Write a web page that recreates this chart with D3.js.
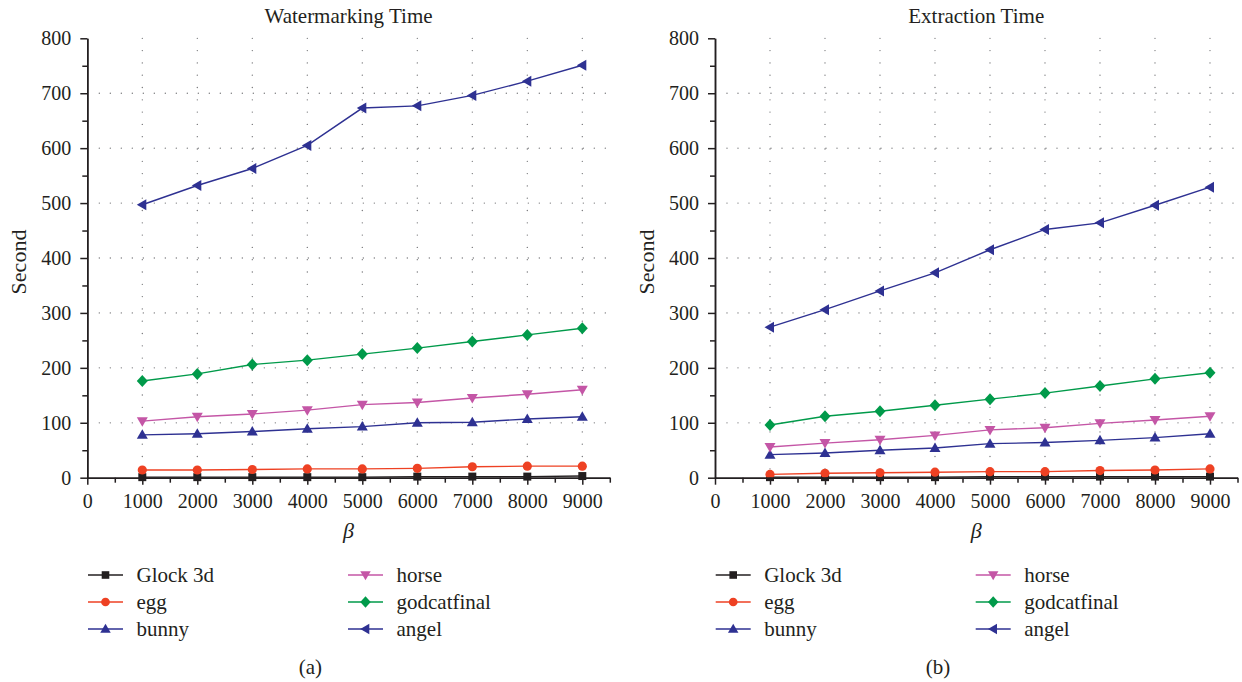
<!DOCTYPE html>
<html>
<head>
<meta charset="utf-8">
<script src="https://cdn.jsdelivr.net/npm/d3@7"></script>
<style>
  html, body { margin: 0; padding: 0; background: #fff; }
  svg text { font-family: "Liberation Serif", "Times New Roman", serif; fill: #231f20; }
</style>
</head>
<body>
<svg id="chart" width="1242" height="682"></svg>
<script>
// x values (beta)
const betaValues = [1000, 2000, 3000, 4000, 5000, 6000, 7000, 8000, 9000];
const xTickLabels = [0, 1000, 2000, 3000, 4000, 5000, 6000, 7000, 8000, 9000];
const yTickLabels = [0, 100, 200, 300, 400, 500, 600, 700, 800];

const seriesNames = ['Glock 3d', 'egg', 'bunny', 'horse', 'godcatfinal', 'angel'];

// Watermarking time (seconds)
const wmGlock = [1, 1, 1, 1, 1, 2, 2, 2, 3];
const wmEgg = [14, 14, 15, 16, 16, 17, 20, 21, 21];
const wmBunny = [78, 80, 84, 89, 93, 100, 101, 107, 111];
const wmHorse = [103, 111, 116, 123, 133, 137, 145, 152, 160];
const wmGodcat = [176, 189, 206, 214, 225, 236, 248, 260, 272];
const wmAngel = [497, 532, 563, 605, 673, 677, 696, 722, 751];

// Extraction time (seconds)
const exGlock = [1, 1, 1, 1, 2, 2, 2, 2, 2];
const exEgg = [6, 8, 9, 10, 11, 11, 13, 14, 16];
const exBunny = [42, 45, 50, 54, 62, 64, 68, 73, 80];
const exHorse = [56, 63, 69, 77, 87, 91, 99, 105, 112];
const exGodcat = [96, 112, 121, 132, 143, 154, 167, 180, 191];
const exAngel = [274, 306, 340, 373, 415, 452, 464, 496, 529];

const seriesStyle = {
  'Glock 3d':    { color: '#231f20', shape: 'square' },
  'egg':         { color: '#ee4123', shape: 'circle' },
  'bunny':       { color: '#2e3192', shape: 'triUp' },
  'horse':       { color: '#c456a6', shape: 'triDown' },
  'godcatfinal': { color: '#009a4a', shape: 'diamond' },
  'angel':       { color: '#2e3192', shape: 'triLeft' }
};

const serif = '"Liberation Serif", "Times New Roman", serif';

// marker path by shape name, scaled by s
function markerPath(shape, s = 1) {
  switch (shape) {
    case 'square': return `M${-4*s},${-4*s}h${8*s}v${8*s}h${-8*s}Z`;
    case 'circle': return d3.symbol(d3.symbolCircle, 66 * s * s)();
    case 'triUp': return `M0,${-5.5*s}L${5.5*s},${4*s}L${-5.5*s},${4*s}Z`;
    case 'triDown': return `M0,${5.5*s}L${5.5*s},${-4*s}L${-5.5*s},${-4*s}Z`;
    case 'triLeft': return `M${-5.5*s},0L${4*s},${-5.5*s}L${4*s},${5.5*s}Z`;
    case 'diamond': return `M0,${-6*s}L${5.5*s},0L0,${6*s}L${-5.5*s},0Z`;
  }
}

const panels = [
  { title: 'Watermarking Time', tag: '(a)', left: 87.3,
    values: [wmGlock, wmEgg, wmBunny, wmHorse, wmGodcat, wmAngel] },
  { title: 'Extraction Time', tag: '(b)', left: 715,
    values: [exGlock, exEgg, exBunny, exHorse, exGodcat, exAngel] }
];

const svg = d3.select('#chart');
const plotTop = 38.3, plotBottom = 477.7, plotW = 522.5;

panels.forEach(p => {
  const x = d3.scaleLinear().domain([0, 9500]).range([p.left, p.left + plotW]);
  const y = d3.scaleLinear().domain([0, 800]).range([plotBottom, plotTop]);
  const g = svg.append('g');
  const cx = (p.left + p.left + plotW) / 2;

  // dotted grid
  const grid = g.append('g').attr('stroke', '#6d6e71').attr('stroke-width', 1.3)
    .attr('stroke-linecap', 'round');
  grid.selectAll('.hgrid').data(yTickLabels.filter(v => v > 0 && v < 800)).join('line')
    .attr('x1', x(0) + 12).attr('x2', x(9500))
    .attr('y1', d => y(d)).attr('y2', d => y(d))
    .attr('stroke-dasharray', '0,11');
  grid.selectAll('.vgrid').data(betaValues).join('line')
    .attr('x1', d => x(d)).attr('x2', d => x(d))
    .attr('y1', y(800)).attr('y2', y(0) - 6)
    .attr('stroke-dasharray', '0,12.3');

  // series
  p.values.forEach((vals, i) => {
    const st = seriesStyle[seriesNames[i]];
    const pts = betaValues.map((b, j) => [b, vals[j]]);
    g.append('path').datum(pts)
      .attr('fill', 'none').attr('stroke', st.color).attr('stroke-width', 1.4)
      .attr('d', d3.line().x(d => x(d[0])).y(d => y(d[1])));
    g.selectAll(null).data(pts).join('path')
      .attr('transform', d => `translate(${x(d[0])},${y(d[1])})`)
      .attr('d', markerPath(st.shape))
      .attr('fill', st.color);
  });

  // axes
  const fmt = d3.format('d');
  const axes = g.append('g');
  axes.append('g').attr('transform', `translate(0,${plotBottom})`)
    .call(d3.axisBottom(x).tickValues(xTickLabels).tickFormat(fmt).tickSize(7).tickSizeOuter(0).tickPadding(9));
  axes.append('g').attr('transform', `translate(0,${plotBottom})`)
    .call(d3.axisBottom(x).tickValues(d3.range(500, 10000, 1000)).tickSize(5).tickSizeOuter(0).tickFormat(''));
  axes.append('g').attr('transform', `translate(${p.left},0)`)
    .call(d3.axisLeft(y).tickValues(yTickLabels).tickFormat(fmt).tickSize(7).tickSizeOuter(0).tickPadding(9));
  axes.append('g').attr('transform', `translate(${p.left},0)`)
    .call(d3.axisLeft(y).tickValues(d3.range(50, 800, 100)).tickSize(5).tickSizeOuter(0).tickFormat(''));
  axes.selectAll('g').attr('font-family', serif).attr('font-size', 20);
  axes.selectAll('.domain, .tick line').attr('stroke', '#231f20').attr('stroke-width', 1.5);
  axes.selectAll('.tick text').attr('fill', '#231f20');

  // titles and labels
  g.append('text').attr('x', cx).attr('y', 23).attr('text-anchor', 'middle')
    .attr('font-size', 21).text(p.title);
  g.append('text').attr('transform', `translate(${p.left - 61},${(plotTop + plotBottom) / 2 + 4}) rotate(-90)`)
    .attr('text-anchor', 'middle').attr('font-size', 22).text('Second');
  g.append('text').attr('x', cx).attr('y', 538).attr('text-anchor', 'middle')
    .attr('font-size', 22).attr('font-style', 'italic').text('β');
  g.append('text').attr('x', p.left + 223).attr('y', 674).attr('text-anchor', 'middle')
    .attr('font-size', 21).text(p.tag);

  // legend
  const rows = [575, 602, 629];
  seriesNames.forEach((name, i) => {
    const st = seriesStyle[name];
    const col = Math.floor(i / 3);
    const lx = p.left + (col === 0 ? 0.7 : 260.7);
    const ly = rows[i % 3];
    const lg = g.append('g');
    lg.append('line').attr('x1', lx).attr('x2', lx + 35).attr('y1', ly).attr('y2', ly)
      .attr('stroke', st.color).attr('stroke-width', 1.6);
    lg.append('path').attr('transform', `translate(${lx + 17.5},${ly})`)
      .attr('d', markerPath(st.shape, 0.95)).attr('fill', st.color);
    lg.append('text').attr('x', lx + 48.5).attr('y', ly + 6.5)
      .attr('font-size', 21).text(name);
  });
});
</script>
</body>
</html>
